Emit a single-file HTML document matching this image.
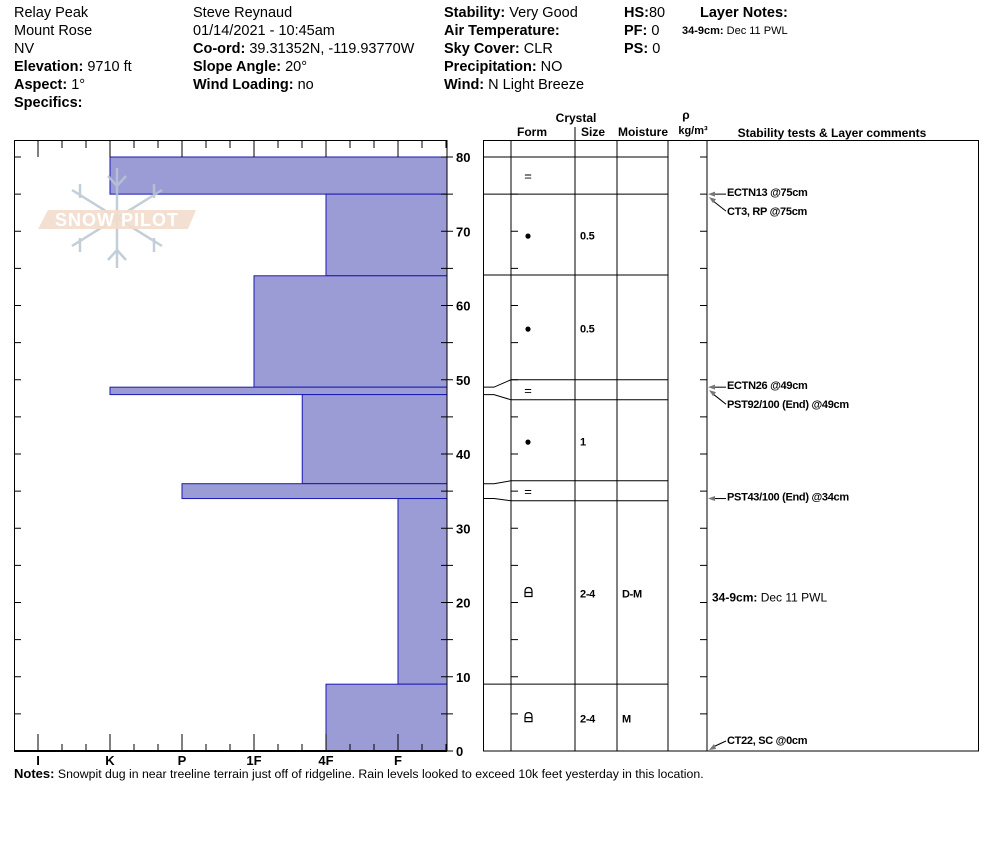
<!DOCTYPE html>
<html><head><meta charset="utf-8"><style>
html,body{margin:0;padding:0;background:#fff;}
svg text{font-family:"Liberation Sans",sans-serif;}
.h{font-size:14.5px;fill:#000}
.b{font-weight:bold}
.c{font-size:11px;font-weight:bold;letter-spacing:-0.3px}
</style></head><body>
<svg id="chart" width="994" height="840" viewBox="0 0 994 840" xmlns="http://www.w3.org/2000/svg">
<g class="h">
<text x="14" y="17">Relay Peak</text>
<text x="14" y="35">Mount Rose</text>
<text x="14" y="53">NV</text>
<text x="14" y="71"><tspan class="b">Elevation:</tspan> 9710 ft</text>
<text x="14" y="89"><tspan class="b">Aspect:</tspan> 1°</text>
<text x="14" y="107" class="b">Specifics:</text>
<text x="193" y="17">Steve Reynaud</text>
<text x="193" y="35">01/14/2021 - 10:45am</text>
<text x="193" y="53"><tspan class="b">Co-ord:</tspan> 39.31352N, -119.93770W</text>
<text x="193" y="71"><tspan class="b">Slope Angle:</tspan> 20°</text>
<text x="193" y="89"><tspan class="b">Wind Loading:</tspan> no</text>
<text x="444" y="17"><tspan class="b">Stability:</tspan> Very Good</text>
<text x="444" y="35" class="b">Air Temperature:</text>
<text x="444" y="53"><tspan class="b">Sky Cover:</tspan> CLR</text>
<text x="444" y="71"><tspan class="b">Precipitation:</tspan> NO</text>
<text x="444" y="89"><tspan class="b">Wind:</tspan>  N Light Breeze</text>
<text x="624" y="17"><tspan class="b">HS:</tspan>80</text>
<text x="624" y="35"><tspan class="b">PF:</tspan> 0</text>
<text x="624" y="53"><tspan class="b">PS:</tspan> 0</text>
<text x="700" y="17" class="b">Layer Notes:</text>
<text x="682" y="34" style="font-size:11px"><tspan class="b">34-9cm:</tspan>  Dec 11 PWL</text>
</g>
<g id="left"></g>
<g opacity="0.85">
<g stroke="#b8c6d2" stroke-width="2.5" fill="none">
<line x1="117" y1="168" x2="117" y2="268"/>
<line x1="72" y1="190" x2="162" y2="246"/>
<line x1="162" y1="190" x2="72" y2="246"/>
<path d="M108 176 l9 10 l9 -10 M108 260 l9 -10 l9 10 M80 184 l0 14 M154 184 l0 14 M80 238 l0 14 M154 238 l0 14"/>
</g>
<polygon points="48,210 196,210 188,229 38,229" fill="#efd7c4" opacity="0.9"/>
<text x="117" y="226" text-anchor="middle" style="font-size:18px;fill:#fff;font-weight:bold;letter-spacing:1px">SNOW PILOT</text>
</g>
<g id="right"></g>
<g class="b" style="font-size:12px">
<text x="576" y="122" text-anchor="middle">Crystal</text>
<text x="532" y="136" text-anchor="middle">Form</text>
<text x="593" y="136" text-anchor="middle">Size</text>
<text x="643" y="136" text-anchor="middle">Moisture</text>
<text x="686" y="119" text-anchor="middle">ρ</text>
<text x="693" y="134" text-anchor="middle" style="font-size:11px">kg/m³</text>
<text x="832" y="137" text-anchor="middle">Stability tests &amp; Layer comments</text>
</g>
<text x="14" y="778" style="font-size:12.3px"><tspan class="b" style="font-size:13px">Notes:</tspan>  Snowpit dug in near treeline terrain just off of ridgeline.  Rain levels looked to exceed 10k feet yesterday in this location.</text>
</svg>
<script>
const layerTops=[80,75,64,49,48,36,34,9];
const layerBottoms=[75,64,49,48,36,34,9,0];
const layerHardness=[2,5,4,2,4.67,3,6,5];
const hardnessLabels=["I","K","P","1F","4F","F"];
const depthTicks=[0,10,20,30,40,50,60,70,80];
const displayBounds=[80,75,64.1,50,47.3,36.4,33.7,9,0];
const forms=["=","●","●","=","●","=","fc","fc"];
const sizes=["","0.5","0.5","","1","","2-4","2-4"];
const moist=["","","","","","","D-M","M"];
const tests=[["ECTN13 @75cm",75,0],["CT3, RP @75cm",75,1],["ECTN26 @49cm",49,0],["PST92/100 (End) @49cm",49,1],["PST43/100 (End) @34cm",34,0],["CT22, SC @0cm",0,2]];
const NS="http://www.w3.org/2000/svg";
const yD=d=>751-d*7.425;
const xH=v=>38+(v-1)*72;
function mk(p,t,a){const e=document.createElementNS(NS,t);for(const k in a)e.setAttribute(k,a[k]);p.appendChild(e);return e;}
const L=document.getElementById('left'),R=document.getElementById('right');
for(let i=0;i<layerTops.length;i++){
 const y1=yD(layerTops[i]),y2=yD(layerBottoms[i]),x=xH(layerHardness[i]);
 const r=mk(L,'rect',{x:x,y:y1,width:447-x,height:y2-y1,fill:'#9b9bd6',stroke:'#1a1ab0','stroke-width':1});
 
 
}
const fr=mk(L,'rect',{x:14.5,y:140.5,width:432.5,height:610.5,fill:'none',stroke:'#000','stroke-width':1});


mk(L,'line',{x1:14,y1:751,x2:447,y2:751,stroke:'#000','stroke-width':2});
for(let d=0;d<=80;d+=5){const y=yD(d);mk(L,'line',{x1:14,y1:y,x2:21,y2:y,stroke:'#000'});mk(L,'line',{x1:441,y1:y,x2:453,y2:y,stroke:'#000'});}
depthTicks.forEach(d=>{const t=mk(L,'text',{x:456,y:yD(d)+5,'font-size':13,'font-weight':'bold'});t.textContent=d;

});
hardnessLabels.forEach((h,i)=>{const x=xH(i+1);
 mk(L,'line',{x1:x,y1:734,x2:x,y2:751,stroke:'#000'});mk(L,'line',{x1:x,y1:141,x2:x,y2:157,stroke:'#000'});
 [24,48].forEach(o=>{if(x+o<447){mk(L,'line',{x1:x+o,y1:744,x2:x+o,y2:751,stroke:'#000'});mk(L,'line',{x1:x+o,y1:141,x2:x+o,y2:148,stroke:'#000'});}});
 const t=mk(L,'text',{x:x,y:765,'text-anchor':'middle','font-size':13,'font-weight':'bold'});t.textContent=h;
 
 });
const fr2=mk(R,'rect',{x:483.5,y:140.5,width:495,height:610.5,fill:'none',stroke:'#000'});


[511,575,617,668,707].forEach(x=>mk(R,'line',{x1:x,y1:140,x2:x,y2:751,stroke:'#000'}));
mk(R,'line',{x1:575,y1:127,x2:575,y2:140,stroke:'#000'});
for(let d=0;d<=80;d+=5){const y=yD(d);mk(R,'line',{x1:511,y1:y,x2:518,y2:y,stroke:'#000'});mk(R,'line',{x1:700,y1:y,x2:707,y2:y,stroke:'#000'});}
displayBounds.slice(0,-1).forEach((d,i)=>{const y=yD(d);mk(R,'line',{x1:511,y1:y,x2:668,y2:y,stroke:'#000'});
 const top=layerTops[i];const ya=Math.abs(top-d)>0.2?yD(top):y;
 mk(R,'polyline',{points:`483,${ya} 494,${ya} 511,${y}`,fill:'none',stroke:'#000'});});
for(let i=0;i<forms.length;i++){
 const yc=(yD(displayBounds[i])+yD(displayBounds[i+1]))/2;
 if(forms[i]=="fc"){const p=mk(R,'path',{d:`M525 ${yc+4} v-5 q0 -4 3.5 -4 q3.5 0 3.5 4 v5 z M525 ${yc} h7`,fill:'none',stroke:'#000','stroke-width':1.2});
  
  }
 else{const t=mk(R,'text',{x:528,y:yc+5,'text-anchor':'middle','font-size':forms[i]=="="?13:12});t.textContent=forms[i];
  
  }
 if(sizes[i]){const t=mk(R,'text',{x:580,y:yc+5,'class':'c'});t.textContent=sizes[i];
  
  }
 if(moist[i]){const t=mk(R,'text',{x:622,y:yc+5,'class':'c'});t.textContent=moist[i];
  
  }
}
tests.forEach(([s,d,k])=>{const y=yD(d);let ty;
 if(k==0){ty=y+2;mk(R,'line',{x1:714,y1:y,x2:726,y2:y,stroke:'#000'});mk(R,'polygon',{points:`708,${y} 715,${y-2.5} 715,${y+2.5}`,fill:'#777'});}
 else if(k==1){ty=y+21;mk(R,'line',{x1:712,y1:y+6,x2:726,y2:y+17,stroke:'#000'});mk(R,'polygon',{points:`709,${y+3} 716,${y+5} 713,${y+9}`,fill:'#777'});}
 else{ty=y-7;mk(R,'line',{x1:713,y1:y-4,x2:726,y2:y-10,stroke:'#000'});mk(R,'polygon',{points:`709,${y-1} 714,${y-7} 716,${y-2}`,fill:'#777'});}
 const t=mk(R,'text',{x:727,y:ty,'class':'c'});t.textContent=s;
 
 });
const ln=mk(R,'text',{x:712,y:yD(20)-1,'font-size':12});ln.innerHTML='<tspan font-weight="bold">34-9cm:</tspan>  Dec 11 PWL';


</script>
</body></html>
